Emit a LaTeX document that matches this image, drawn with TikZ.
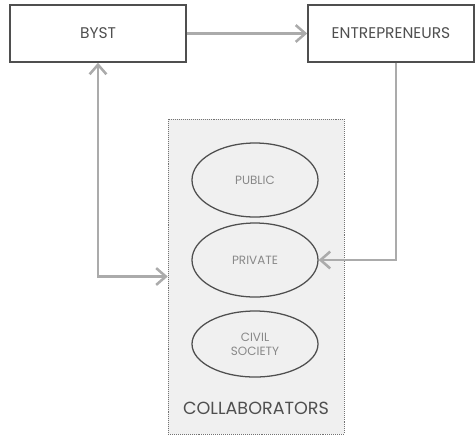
\documentclass[tikz,border=0pt]{standalone}
\usepackage{fontspec}
\setmainfont{Poppins}
\usepackage{xcolor}
\usetikzlibrary{arrows.meta, shapes.geometric}

\definecolor{boxline}{HTML}{4F4F4F}
\definecolor{arrowgray}{HTML}{ABABAB}
\definecolor{groupfill}{HTML}{F0F0F0}
\definecolor{ovaltext}{HTML}{888888}

\begin{document}
\begin{tikzpicture}[>={Straight Barb[length=2.4mm, width=4.2mm]}]
    \useasboundingbox (0, 0) rectangle (11.875, -10.875);

    \node[draw=boxline, line width=1.1pt, rectangle, minimum width=4.4cm, minimum height=1.425cm, font=\fontsize{11}{13}\selectfont] at (2.45, -0.8375) (byst) {\textcolor{boxline}{BYST}};
    \node[draw=boxline, line width=1.1pt, rectangle, minimum width=4.15cm, minimum height=1.425cm, font=\fontsize{11}{13}\selectfont] at (9.775, -0.8375) (entre) {\textcolor{boxline}{ENTREPRENEURS}};

    \node[draw=boxline!80, densely dotted, fill=groupfill, rectangle, minimum width=4.4cm, minimum height=7.875cm] at (6.4, -6.9125) (collab) {};
    \node[font=\fontsize{12.5}{14}\selectfont] at (6.4, -10.2) (collabtext) {\textcolor{boxline}{COLLABORATORS}};

    \node[draw=boxline, line width=0.9pt, ellipse, minimum width=3.15cm, minimum height=1.85cm, font=\fontsize{8.5}{10}\selectfont] at (6.375, -4.5) (public) {\textcolor{ovaltext}{PUBLIC}};
    \node[draw=boxline, line width=0.9pt, ellipse, minimum width=3.15cm, minimum height=1.85cm, font=\fontsize{8.5}{10}\selectfont] at (6.375, -6.5) (private) {\textcolor{ovaltext}{PRIVATE}};
    \node[draw=boxline, line width=0.9pt, ellipse, minimum width=3.15cm, minimum height=1.65cm, font=\fontsize{8.5}{10}\selectfont, align=center] at (6.375, -8.6) (civil) {\textcolor{ovaltext}{CIVIL}\\\textcolor{ovaltext}{SOCIETY}};

    \draw[->, arrowgray, line width=1.8pt] (byst) -- (entre);
    \draw[<->, arrowgray, line width=1.8pt] (byst.south) |- (collab.west);
    \draw[->, arrowgray, line width=1.8pt] ([xshift=0.125cm]entre.south) |- (private.east);
  \end{tikzpicture}
\end{document}
